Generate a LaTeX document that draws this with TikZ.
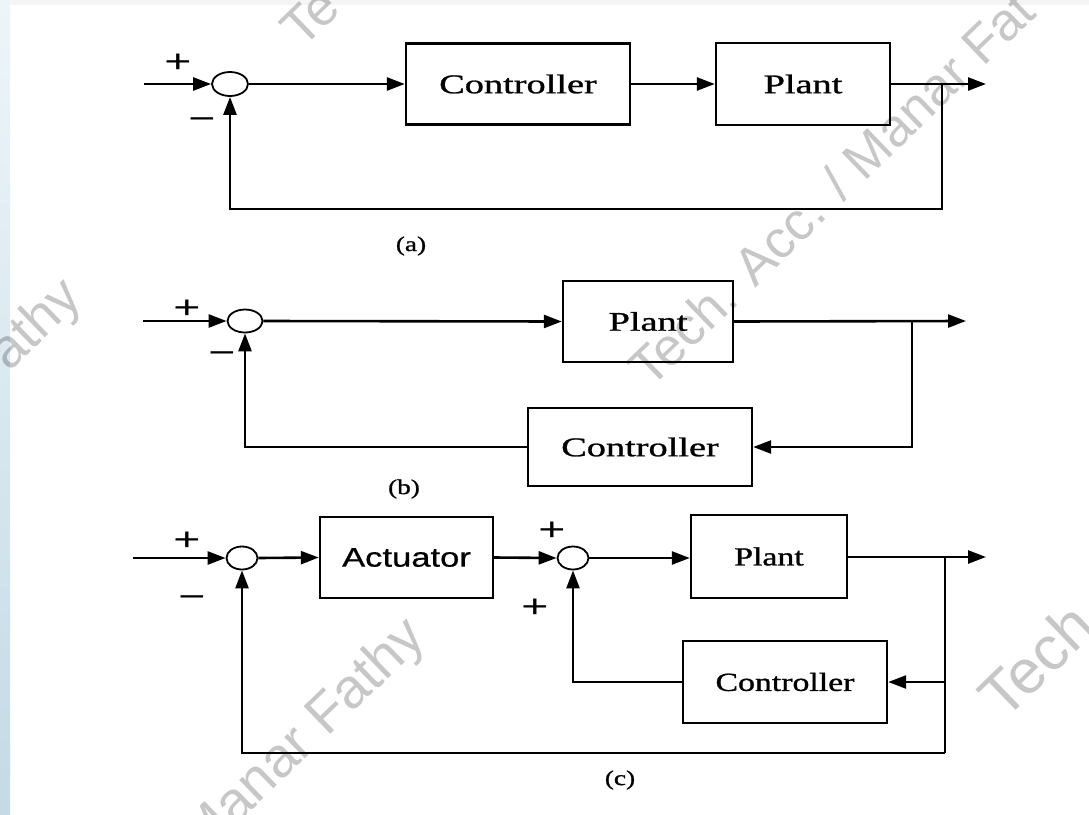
\documentclass[tikz,border=0pt]{standalone}
\usepackage{fontspec}
\setmainfont{Liberation Serif}[FakeBold=0.9]
\newfontfamily\arialf{Liberation Sans}
\newfontfamily\arialh{Liberation Sans}[FakeBold=0.6]
\usetikzlibrary{arrows.meta,shapes.geometric}
\definecolor{stripTop}{RGB}{238,245,249}
\definecolor{stripBot}{RGB}{196,218,229}
\newcommand{\sx}[1]{\scalebox{1.42}[1]{#1}}
\newcommand{\sxc}[1]{\scalebox{1.3}[1]{#1}}
\newcommand{\sgx}[1]{\scalebox{1.45}[1]{#1}}
\begin{document}
\begin{tikzpicture}[x=1pt,y=-1pt,
  blk/.style={draw,line width=2.4pt,inner sep=0pt,font=\fontsize{27}{30}\selectfont},
  blkc/.style={draw,line width=2.4pt,inner sep=0pt,font=\fontsize{26}{30}\selectfont},
  sumj/.style={draw,ellipse,line width=1.8pt,inner sep=0pt},
  arr/.style={line width=2.6pt,-{Triangle[length=18pt,width=13pt]}},
  ln/.style={line width=2.6pt},
  sgn/.style={font=\arialf\fontsize{32}{32}\selectfont,inner sep=0pt},
  sublbl/.style={font=\fontsize{21}{24}\selectfont,inner sep=0pt},
  wm/.style={font=\arialf\fontsize{#1}{#1}\selectfont,text=black,opacity=0.22,rotate=44,inner sep=0pt}]
\useasboundingbox (0,0) rectangle (1089,814);
\fill[white] (0,0) rectangle (1089,814);
\fill[black!4] (0,0) rectangle (1089,5);
\shade[top color=stripTop,bottom color=stripBot] (0,0) rectangle (10,814);

% ---------------- (a)
\node[sumj,minimum width=36,minimum height=24] (sa) at (230,84) {};
\node[blk,minimum width=224,minimum height=81] (ca) at (518,84) {\sx{Controller}};
\node[blk,minimum width=174,minimum height=82] (pa) at (803,84) {\sx{Plant}};
\coordinate (ina) at (144,84);
\coordinate (outa) at (986,84);
\coordinate (bra) at (942,84);
\coordinate (fba) at (942,209);
\draw[arr] (ina) -- (sa.west);
\draw[arr] (sa.east) -- (ca.west);
\draw[arr] (ca.east) -- (pa.west);
\draw[arr] (pa.east) -- (outa);
\draw[arr] (bra) -- (fba) -| (sa.south);
\node[sgn] (pla) at (178,63) {\sgx{+}};
\node[sgn] (mia) at (202,124) {\sgx{−}};
\node[sublbl] (capa) at (411,246) {\sxc{(a)}};

% ---------------- (b)
\node[sumj,minimum width=35,minimum height=23] (sb) at (245,321) {};
\node[blk,minimum width=170,minimum height=81] (pb) at (648,321.5) {\sx{Plant}};
\node[blk,minimum width=224,minimum height=78] (cb) at (640,447) {\sx{Controller}};
\coordinate (inb) at (143,321);
\coordinate (outb) at (966,321);
\coordinate (brb) at (912,321);
\coordinate (fbb) at (912,447);
\draw[arr] (inb) -- (sb.west);
\draw[arr] (sb.east) -- (pb.west);
\draw[arr] (pb.east) -- (outb);
\draw[arr] (brb) -- (fbb) -- (cb.east);
\draw[arr] (cb.west) -| (sb.south);
\node[sgn] (plb) at (187,309) {\sgx{+}};
\node[sgn] (mib) at (222,358) {\sgx{−}};
\node[sublbl] (capb) at (404,489) {\sxc{(b)}};

% ---------------- (c)
\node[sumj,minimum width=31,minimum height=23] (s1) at (242,558) {};
\node[draw,line width=2.4pt,inner sep=0pt,font=\arialh\fontsize{27}{30}\selectfont,minimum width=173,minimum height=81] (act) at (406.5,557.5) {\scalebox{1.28}[1]{Actuator}};
\node[sumj,minimum width=31,minimum height=23] (s2) at (573,558) {};
\node[blkc,minimum width=156,minimum height=83] (pc) at (769,556.5) {\sxc{Plant}};
\node[blkc,minimum width=204,minimum height=82] (cc) at (785,682) {\sxc{Controller}};
\coordinate (inc) at (133,558);
\coordinate (outc) at (986,557);
\coordinate (brc) at (945,557);
\coordinate (mdc) at (945,682);
\coordinate (fbc) at (945,753);
\draw[arr] (inc) -- (s1.west);
\draw[arr] (s1.east) -- (act.west);
\draw[arr] (act.east) -- (s2.west);
\draw[arr] (s2.east) -- (pc.west |- s2.east);
\draw[arr] (pc.east |- outc) -- (outc);
\draw[ln] (brc) -- (fbc);
\draw[arr] (mdc) -- (cc.east);
\draw[arr] (cc.west) -| (s2.south);
\draw[arr] (fbc) -| (s1.south);
\node[sgn] (plc1) at (187,541) {\sgx{+}};
\node[sgn] (mic1) at (192,602) {\sgx{−}};
\node[sgn] (plc2) at (552,531) {\sgx{+}};
\node[sgn] (plc3) at (535,608) {\sgx{+}};
\node[sublbl] (capc) at (620,780) {\sxc{(c)}};

% ---------------- watermarks (visible parts)
\begin{scope}
\clip (0,0) rectangle (1089,814);
\node[wm=53,anchor=base west] (w1) at (650,390) {Tech. Acc. / Manar Fat};
\node[wm=56,anchor=base east] (w2) at (428,640) {Manar Fathy};
\node[wm=55,anchor=base east] (w3) at (84,300) {athy};
\node[wm=53,anchor=base west] (w4) at (302,50) {Te};
\node[wm=62,anchor=base west] (w5) at (1004,722) {Tech};
\end{scope}
\end{tikzpicture}
\end{document}
